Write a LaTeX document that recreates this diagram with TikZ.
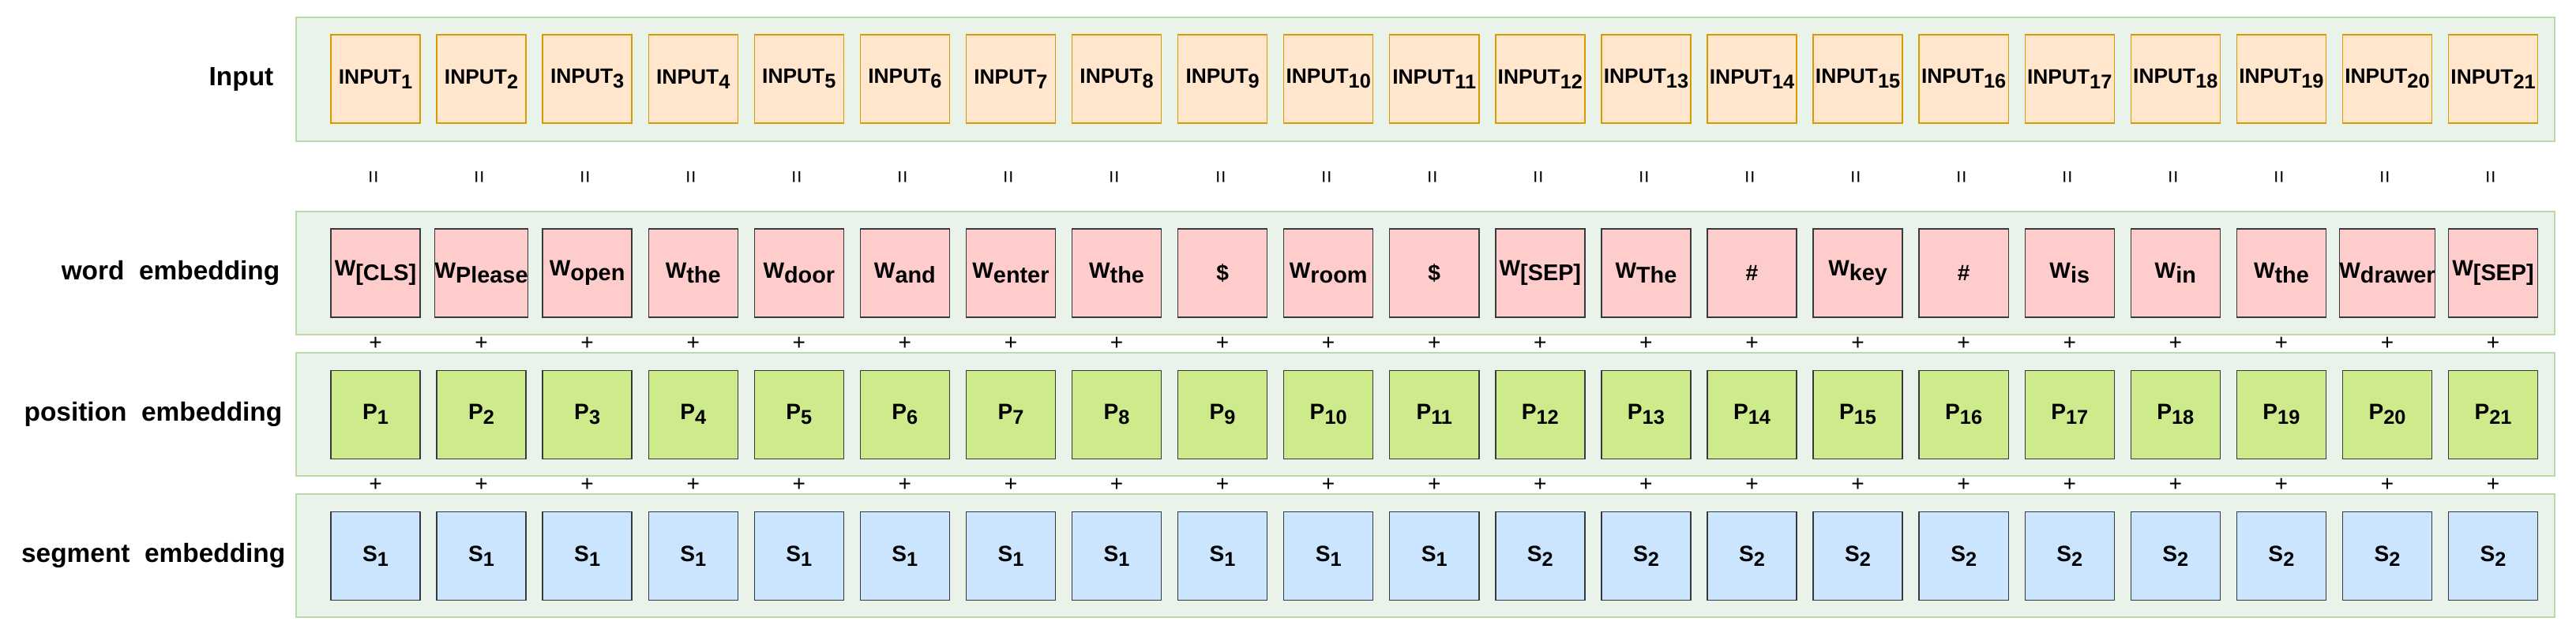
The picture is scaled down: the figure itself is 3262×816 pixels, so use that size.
\documentclass[tikz,border=0pt]{standalone}
\usepackage{fontspec}
\setmainfont{Liberation Sans}
\usetikzlibrary{positioning}

\definecolor{panelfill}{HTML}{EAF3E9}
\definecolor{paneldraw}{HTML}{BCD9AA}
\definecolor{inputfill}{HTML}{FFE6CC}
\definecolor{inputdraw}{HTML}{D79B00}
\definecolor{wordfill}{HTML}{FFCCCC}
\definecolor{posfill}{HTML}{CDEB8B}
\definecolor{segfill}{HTML}{CCE5FF}
\definecolor{boxdraw}{HTML}{36393D}

\newcommand{\idx}[1]{\raisebox{-1.7pt}{\fontsize{7.2pt}{8pt}\selectfont #1}}
\newcommand{\wsub}[1]{\raisebox{-1.7pt}{\fontsize{8.2pt}{9pt}\selectfont #1}}

\tikzset{
  panel/.style={fill=panelfill, draw=paneldraw, line width=0.4pt},
  tok/.style={minimum width=1.13cm, minimum height=1.12cm, inner sep=0pt, line width=0.4pt,
    font=\bfseries\fontsize{8pt}{9.6pt}\selectfont},
  inbox/.style={tok, fill=inputfill, draw=inputdraw, font=\bfseries\fontsize{7.5pt}{9pt}\selectfont},
  wordbox/.style={tok, fill=wordfill, draw=boxdraw},
  posbox/.style={tok, fill=posfill, draw=boxdraw},
  segbox/.style={tok, fill=segfill, draw=boxdraw},
  rowlabel/.style={anchor=east, inner sep=0pt, font=\bfseries\fontsize{9.5pt}{11pt}\selectfont},
  sign/.style={inner sep=0pt, font=\fontsize{8pt}{9.6pt}\selectfont}
}

\begin{document}
\begin{tikzpicture}[x=0.01cm, y=-0.01cm, node distance=1.34cm]
\useasboundingbox (0,0) rectangle (3262,816);

% bands
\draw[panel] (375,22) rectangle (3235,179);
\draw[panel] (375,268) rectangle (3235,424);
\draw[panel] (375,447) rectangle (3235,603);
\draw[panel] (375,626) rectangle (3235,782);

% row names
\node[rowlabel] (linput) at (347,100) {Input};
\node[rowlabel] (lword) at (355,346) {word\ \ embedding};
\node[rowlabel] (lpos) at (358,525) {position\ \ embedding};
\node[rowlabel] (lseg) at (362,704) {segment\ \ embedding};

% input tokens
\node[inbox] (in1) at (475.5,100) {INPUT\idx{1}};
\foreach \i [remember=\i as \j (initially 1)] in {2,...,21}
  \node[inbox, right of=in\j] (in\i) {INPUT\idx{\i}};

% word embedding
\foreach \w [count=\i] in {W\wsub{[CLS]}, W\wsub{Please}, W\wsub{open}, W\wsub{the},
    W\wsub{door}, W\wsub{and}, W\wsub{enter}, W\wsub{the}, \$, W\wsub{room}, \$,
    W\wsub{[SEP]}, W\wsub{The}, \#, W\wsub{key}, \#, W\wsub{is}, W\wsub{in},
    W\wsub{the}, W\wsub{drawer}, W\wsub{[SEP]}}
  \node[wordbox, below of=in\i, node distance=2.46cm] (w\i) {\w};

% position, segment and the signs between rows
\foreach \i in {1,...,21} {
  \node[posbox, below of=w\i, node distance=1.79cm] (p\i) {P\idx{\i}};
  \node[segbox, below of=p\i, node distance=1.79cm] (s\i) {S\idx{\ifnum\i<12 1\else 2\fi}};
  \node[sign, below of=in\i, node distance=1.24cm] (eq\i) {\rotatebox{90}{=}};
  \node[sign, below of=w\i, node distance=0.895cm] (pw\i) {+};
  \node[sign, below of=p\i, node distance=0.895cm] (ps\i) {+};
}
\end{tikzpicture}
\end{document}
